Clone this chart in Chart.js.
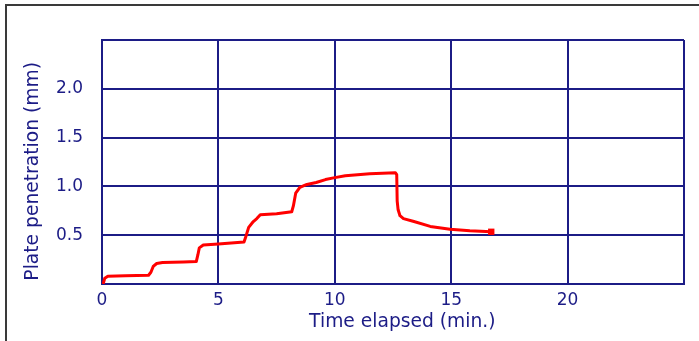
<!DOCTYPE html>
<html>
<head>
<meta charset="utf-8">
<title>Plate penetration</title>
<script src="https://cdn.jsdelivr.net/npm/chart.js@4/dist/chart.umd.min.js"></script>
<style>
  html, body { margin: 0; padding: 0; background: #fff; overflow: hidden; }
  #wrap { position: relative; width: 699px; height: 341px; overflow: hidden; }
  #frame {
    position: absolute; left: 5px; top: 4px; width: 800px; height: 500px;
    border: 2px solid #3a3a3a; box-sizing: border-box;
  }
  #plot { position: absolute; left: 0; top: 0; }
</style>
</head>
<body>
<div id="wrap">
  <div id="frame"></div>
  <canvas id="plot" width="699" height="341"></canvas>
</div>
<script>
  "use strict";

  // ---- data -------------------------------------------------------------
  var timeMin = [
    0.05, 0.12, 0.25, 1.0, 2.0, 2.1, 2.2, 2.35, 2.6, 3.5,
    4.05, 4.12, 4.18, 4.35, 5.0, 6.1, 6.17, 6.3, 6.5, 6.65,
    6.8, 7.5, 8.15, 8.22, 8.32, 8.5, 8.8, 9.2, 9.6, 10.0,
    10.45, 11.5, 12.6, 12.66, 12.68, 12.72, 12.8, 12.95, 13.4, 14.1,
    14.95, 15.8, 16.72
  ];
  var penetrationMm = [
    0.0, 0.06, 0.08, 0.085, 0.09, 0.12, 0.18, 0.21, 0.22, 0.225,
    0.23, 0.3, 0.37, 0.4, 0.41, 0.43, 0.48, 0.58, 0.64, 0.67,
    0.71, 0.72, 0.74, 0.8, 0.93, 0.99, 1.02, 1.04, 1.07, 1.09,
    1.11, 1.13, 1.14, 1.12, 0.85, 0.76, 0.7, 0.67, 0.64, 0.59,
    0.56, 0.545, 0.535
  ];
  var xTicks = [0, 5, 10, 15, 20];
  var yTicks = [0.5, 1.0, 1.5, 2.0];

  var NAVY = "#1c1c86";
  var RED = "#ff0000";
  var FONT = "'DejaVu Sans', 'Liberation Sans', Arial, sans-serif";
  var EN = "\u2002"; // en space, nudges a title off-centre like the original

  var points = timeMin.map(function (t, i) {
    return { x: t, y: penetrationMm[i] };
  });
  var last = points.length - 1;

  new Chart(document.getElementById("plot"), {
    type: "line",
    data: {
      datasets: [{
        data: points,
        borderColor: RED,
        backgroundColor: RED,
        borderWidth: 3,
        borderJoinStyle: "round",
        tension: 0,
        fill: false,
        pointStyle: "rect",
        pointRadius: function (ctx) { return ctx.dataIndex === last ? 4.5 : 0; },
        pointBorderWidth: 0,
        pointBackgroundColor: RED
      }]
    },
    options: {
      responsive: false,
      animation: false,
      layout: { padding: { top: 40, right: 15, left: 0, bottom: 0 } },
      plugins: { legend: { display: false }, tooltip: { enabled: false } },
      scales: {
        x: {
          type: "linear",
          min: 0,
          max: 25,
          afterFit: function (s) { s.height = 57; },
          afterBuildTicks: function (s) {
            s.ticks = xTicks.concat([25]).map(function (v) { return { value: v }; });
          },
          ticks: {
            color: NAVY,
            padding: 6,
            maxRotation: 0,
            font: { family: FONT, size: 17 },
            callback: function (v) { return xTicks.indexOf(v) >= 0 ? String(v) : ""; }
          },
          grid: { color: NAVY, lineWidth: 2, drawTicks: false },
          border: { color: NAVY, width: 2 },
          title: {
            display: true,
            text: EN + EN + "Time elapsed (min.)",
            color: NAVY,
            font: { family: FONT, size: 18.7 },
            padding: { top: 0, bottom: 8 }
          }
        },
        y: {
          type: "linear",
          min: 0,
          max: 2.5,
          afterFit: function (s) { s.width = 102; },
          afterBuildTicks: function (s) {
            s.ticks = [0].concat(yTicks, [2.5]).map(function (v) { return { value: v }; });
          },
          ticks: {
            color: NAVY,
            padding: 19,
            font: { family: FONT, size: 17 },
            callback: function (v) { return yTicks.indexOf(v) >= 0 ? v.toFixed(1) : ""; }
          },
          grid: { color: NAVY, lineWidth: 2, drawTicks: false },
          border: { color: NAVY, width: 2 },
          title: {
            display: true,
            text: "Plate penetration (mm)" + EN + EN,
            color: NAVY,
            font: { family: FONT, size: 18.7 },
            padding: { top: 22, bottom: 0 }
          }
        }
      }
    }
  });
</script>
</body>
</html>
